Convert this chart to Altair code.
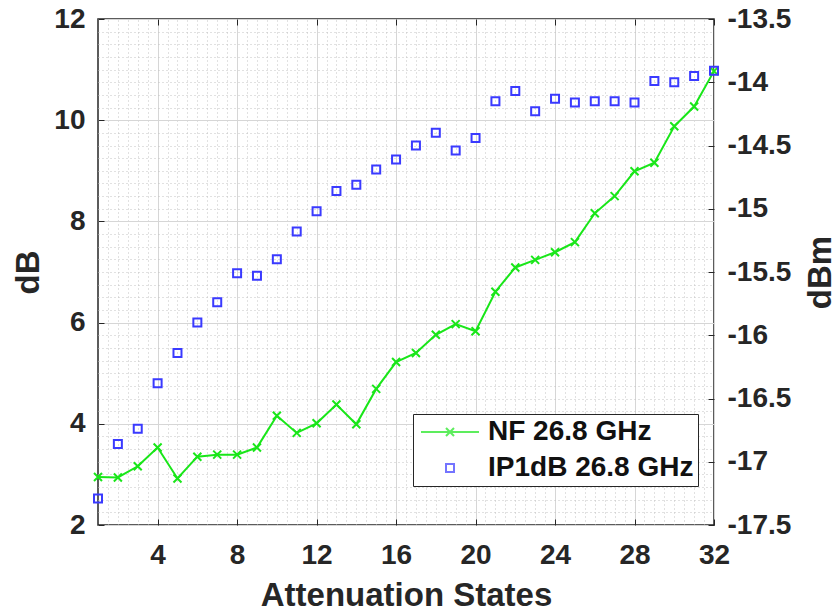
import altair as alt
import pandas as pd
import numpy as np

# ---------------- data ----------------
states = list(range(1, 33))
nf_db = [2.95, 2.94, 3.16, 3.53, 2.92, 3.35, 3.39, 3.39, 3.53, 4.16,
         3.82, 4.01, 4.38, 3.99, 4.69, 5.22, 5.40, 5.76, 5.97, 5.83,
         6.61, 7.09, 7.24, 7.39, 7.59, 8.16, 8.50, 8.99, 9.16, 9.88,
         10.27, 10.97]
ip1db_dbm = [-17.29, -16.86, -16.74, -16.38, -16.14, -15.90, -15.74, -15.51,
             -15.53, -15.40, -15.18, -15.02, -14.86, -14.81, -14.69, -14.61,
             -14.50, -14.40, -14.54, -14.44, -14.15, -14.07, -14.23, -14.13,
             -14.16, -14.15, -14.15, -14.16, -13.99, -14.00, -13.95, -13.91]
series_names = ["NF 26.8 GHz", "IP1dB 26.8 GHz"]
x_ticks = [4, 8, 12, 16, 20, 24, 28, 32]
yl_ticks = [2, 4, 6, 8, 10, 12]
yr_ticks = [-17.5, -17, -16.5, -16, -15.5, -15, -14.5, -14, -13.5]

# ---------------- styling ----------------
GREEN = "#19e619"
BLUE = "#3a3aff"
FONT = "Liberation Sans"
TXT = "#262626"
W, H = 616, 506
X_MARK = "M-1,-1L1,1M-1,1L1,-1"
NF_LEGEND_PATH = "M-7.25,0L7.25,0M-1,-1L1,1M-1,1L1,-1"

df = pd.DataFrame({"state": states, "nf": nf_db, "ip": ip1db_dbm})

xs = alt.Scale(domain=[1, 32], nice=False, zero=False)
ys_l = alt.Scale(domain=[2, 12], nice=False, zero=False)
ys_r = alt.Scale(domain=[-17.5, -13.5], nice=False, zero=False)

x_minor = [v for v in np.arange(1.5, 32.0, 0.5).tolist() if v % 4 != 0]
y_minor = [v for v in np.arange(2.25, 12.0, 0.25).tolist() if v % 2 != 0]

minor = dict(grid=True, gridColor="#c2c2c2", gridDash=[1, 3], gridWidth=1,
             labels=False, ticks=False, domain=False, title=None)
inward = dict(grid=False, labels=False, domain=False, ticks=True,
              tickSize=6, offset=-6, tickColor=TXT, tickWidth=1, title=None)
lab = dict(labelFont=FONT, labelFontSize=28, labelFontWeight="bold",
           labelColor=TXT, titleFont=FONT, titleFontSize=33,
           titleFontWeight="bold", titleColor=TXT, domain=False,
           ticks=False, labelFlush=False, labelOverlap=False)

base = alt.Chart(df)

nf_line = base.mark_line(color=GREEN, strokeWidth=2).encode(
    x=alt.X("state:Q", scale=xs,
            axis=alt.Axis(orient="top", values=x_minor, **minor)),
    y=alt.Y("nf:Q", scale=ys_l,
            axis=alt.Axis(orient="left", values=y_minor, **minor)),
)

nf_pts = base.mark_point(shape=X_MARK, filled=False, size=64, strokeWidth=2,
                         color=GREEN, opacity=1).encode(
    x=alt.X("state:Q", scale=xs,
            axis=alt.Axis(orient="bottom", values=x_ticks, grid=True,
                          gridColor="#d6d6d6", gridWidth=1, labelPadding=16,
                          title="Attenuation States", titleY=80,
                          titleBaseline="alphabetic", **lab)),
    y=alt.Y("nf:Q", scale=ys_l,
            axis=alt.Axis(orient="left", values=yl_ticks, grid=True,
                          gridColor="#d6d6d6", gridWidth=1, labelPadding=13,
                          title="dB", titleX=-60, titleY=H / 2,
                          titleAngle=270, titleAlign="center",
                          titleBaseline="alphabetic", **lab)),
)

ip_pts = base.mark_point(shape="square", filled=False, size=64, strokeWidth=2,
                         color=BLUE, opacity=1).encode(
    x=alt.X("state:Q", scale=xs, axis=None),
    y=alt.Y("ip:Q", scale=ys_r,
            axis=alt.Axis(orient="right", values=yr_ticks, grid=False,
                          labelPadding=13, labelExpr="toString(datum.value)",
                          title="dBm", titleX=116, titleY=H / 2,
                          titleAngle=270, titleAlign="center",
                          titleBaseline="alphabetic", **lab)),
)

# empty layers that only carry the inward tick marks of the box
empty = base.transform_filter("false").mark_point(opacity=0)
ticks_a = empty.encode(
    x=alt.X("state:Q", scale=xs,
            axis=alt.Axis(orient="bottom", values=x_ticks, **inward)),
    y=alt.Y("nf:Q", scale=ys_l,
            axis=alt.Axis(orient="left", values=yl_ticks, **inward)),
)
ticks_b = empty.encode(
    x=alt.X("state:Q", scale=xs,
            axis=alt.Axis(orient="top", values=x_ticks, **inward)),
    y=alt.Y("ip:Q", scale=ys_r,
            axis=alt.Axis(orient="right", values=yr_ticks, **inward)),
)

leg = alt.Legend(title=None, orient="none", legendX=315, legendY=395,
                 direction="vertical", fillColor="white", strokeColor=TXT,
                 padding=4, rowPadding=8, labelFont=FONT, labelFontSize=28,
                 labelFontWeight="bold", labelColor="#111111", labelLimit=0,
                 labelOffset=24, symbolOffset=19, symbolSize=64,
                 symbolStrokeWidth=2, cornerRadius=0)

legend_layer = base.transform_calculate(series="'NF 26.8 GHz'").transform_filter(
    "false").mark_point(filled=False, strokeWidth=2, size=64).encode(
    x=alt.X("state:Q", scale=xs, axis=None),
    y=alt.Y("nf:Q", scale=ys_l, axis=None),
    color=alt.Color("series:N",
                    scale=alt.Scale(domain=series_names, range=[GREEN, BLUE]),
                    legend=leg),
    shape=alt.Shape("series:N",
                    scale=alt.Scale(domain=series_names,
                                    range=[NF_LEGEND_PATH, "square"]),
                    legend=leg),
)

chart = alt.layer(nf_line, nf_pts, ip_pts, ticks_a, ticks_b,
                  legend_layer).resolve_scale(
    y="independent"
).properties(
    width=W, height=H,
    autosize=alt.AutoSizeParams(type="none"),
    padding={"left": 98, "top": 19, "right": 126, "bottom": 88},
    background="white",
).configure_view(stroke=TXT, strokeWidth=1.5)

chart.save("out.html", embed_options={"renderer": "svg", "actions": False})
